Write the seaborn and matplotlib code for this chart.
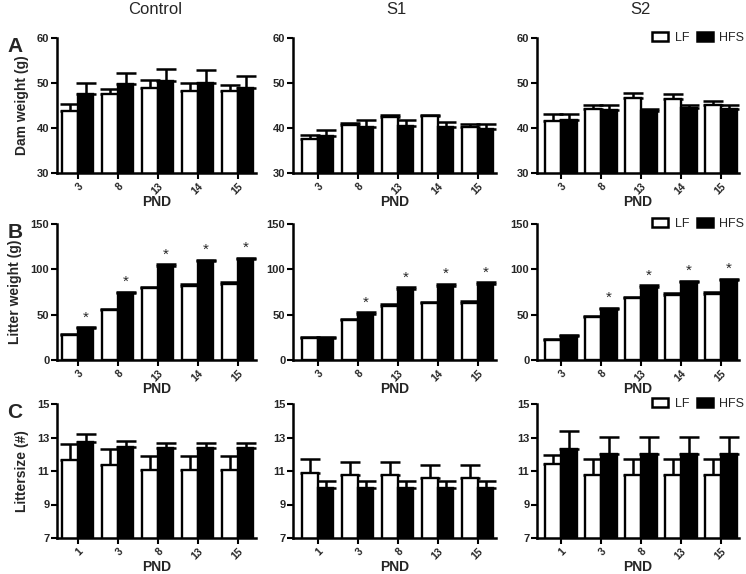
import numpy as np
import pandas as pd
import seaborn as sns
import matplotlib
matplotlib.use("Agg")
import matplotlib.pyplot as plt
from matplotlib.patches import Patch

# ---------------- data ----------------
groups = ["LF", "HFS"]
columns = ["Control", "S1", "S2"]
pnd_weight = ["3", "8", "13", "14", "15"]
pnd_size = ["1", "3", "8", "13", "15"]

# Row A: Dam weight (g)
dam_ctrl_lf = [43.8, 47.6, 48.8, 48.3, 48.2]
dam_ctrl_lf_err = [1.5, 1.0, 1.8, 1.8, 1.3]
dam_ctrl_hfs = [47.6, 49.8, 50.5, 50.1, 49.0]
dam_ctrl_hfs_err = [2.3, 2.5, 2.7, 2.7, 2.5]
dam_s1_lf = [37.5, 40.6, 42.4, 42.7, 40.2]
dam_s1_lf_err = [0.9, 0.6, 0.4, 0.3, 0.7]
dam_s1_hfs = [38.3, 40.2, 40.5, 40.2, 39.8]
dam_s1_hfs_err = [1.3, 1.5, 1.3, 1.2, 1.0]
dam_s2_lf = [41.5, 44.3, 46.7, 46.5, 45.1]
dam_s2_lf_err = [1.6, 0.9, 1.1, 1.0, 0.8]
dam_s2_hfs = [41.8, 43.9, 43.7, 44.4, 44.2]
dam_s2_hfs_err = [1.4, 1.3, 0.6, 0.8, 1.0]

# Row B: Litter weight (g)
lit_ctrl_lf = [28, 55, 79, 82, 84]
lit_ctrl_lf_err = [1.2, 1.5, 1.8, 1.8, 1.8]
lit_ctrl_hfs = [35, 74, 104, 109, 111]
lit_ctrl_hfs_err = [1.2, 1.5, 1.8, 1.8, 1.8]
lit_s1_lf = [24.5, 44, 60, 62.5, 63]
lit_s1_lf_err = [1.0, 1.5, 2.0, 2.0, 2.0]
lit_s1_hfs = [24.5, 51, 78, 82, 84]
lit_s1_hfs_err = [1.0, 1.5, 2.0, 2.0, 2.0]
lit_s2_lf = [22, 47, 68, 72, 73]
lit_s2_lf_err = [1.0, 1.5, 1.5, 1.5, 1.5]
lit_s2_hfs = [27, 56, 81, 86, 88]
lit_s2_hfs_err = [1.0, 1.5, 1.5, 1.5, 1.5]
lit_ctrl_sig = [True, True, True, True, True]
lit_s1_sig = [False, True, True, True, True]
lit_s2_sig = [False, True, True, True, True]

# Row C: Littersize (#)
size_ctrl_lf = [11.65, 11.35, 11.05, 11.05, 11.05]
size_ctrl_lf_err = [0.95, 0.95, 0.85, 0.85, 0.85]
size_ctrl_hfs = [12.75, 12.45, 12.35, 12.35, 12.35]
size_ctrl_hfs_err = [0.45, 0.35, 0.35, 0.35, 0.35]
size_s1_lf = [10.87, 10.75, 10.75, 10.56, 10.56]
size_s1_lf_err = [0.86, 0.77, 0.77, 0.77, 0.77]
size_s1_hfs = [10.0, 10.0, 10.0, 10.0, 10.0]
size_s1_hfs_err = [0.42, 0.42, 0.42, 0.42, 0.42]
size_s2_lf = [11.4, 10.77, 10.77, 10.77, 10.77]
size_s2_lf_err = [0.57, 0.93, 0.93, 0.93, 0.93]
size_s2_hfs = [12.32, 12.03, 12.03, 12.03, 12.03]
size_s2_hfs_err = [1.07, 1.02, 1.02, 1.02, 1.02]

rows = [
    dict(ylabel="Dam weight (g)", letter="A", cats=pnd_weight, ylim=(30, 60), yticks=[30, 40, 50, 60],
         data=[(dam_ctrl_lf, dam_ctrl_lf_err, dam_ctrl_hfs, dam_ctrl_hfs_err, None),
               (dam_s1_lf, dam_s1_lf_err, dam_s1_hfs, dam_s1_hfs_err, None),
               (dam_s2_lf, dam_s2_lf_err, dam_s2_hfs, dam_s2_hfs_err, None)]),
    dict(ylabel="Litter weight (g)", letter="B", cats=pnd_weight, ylim=(0, 150), yticks=[0, 50, 100, 150],
         data=[(lit_ctrl_lf, lit_ctrl_lf_err, lit_ctrl_hfs, lit_ctrl_hfs_err, lit_ctrl_sig),
               (lit_s1_lf, lit_s1_lf_err, lit_s1_hfs, lit_s1_hfs_err, lit_s1_sig),
               (lit_s2_lf, lit_s2_lf_err, lit_s2_hfs, lit_s2_hfs_err, lit_s2_sig)]),
    dict(ylabel="Littersize (#)", letter="C", cats=pnd_size, ylim=(7, 15), yticks=[7, 9, 11, 13, 15],
         data=[(size_ctrl_lf, size_ctrl_lf_err, size_ctrl_hfs, size_ctrl_hfs_err, None),
               (size_s1_lf, size_s1_lf_err, size_s1_hfs, size_s1_hfs_err, None),
               (size_s2_lf, size_s2_lf_err, size_s2_hfs, size_s2_hfs_err, None)]),
]

# ---------------- layout ----------------
sns.set_theme(style="ticks")
plt.rcParams["font.family"] = ["Liberation Sans", "DejaVu Sans"]

W, H = 746, 574
fig = plt.figure(figsize=(W / 100, H / 100), dpi=100)

row_px = [(38, 173), (224, 360), (404, 538)]   # top, bottom pixel
col_left_px = [57, 293, 537]
col_xlim_left = [-0.52, -0.62, -0.60]
xlim_right = 4.45
px_per_unit = 40.0

palette = {"LF": "white", "HFS": "black"}

for r, row in enumerate(rows):
    top, bot = row_px[r]
    for c in range(3):
        lf, lf_err, hfs, hfs_err, sig = row["data"][c]
        left = col_left_px[c]
        width_px = (xlim_right - col_xlim_left[c]) * px_per_unit
        ax = fig.add_axes([left / W, 1 - bot / H, width_px / W, (bot - top) / H])
        df = pd.DataFrame({
            "PND": row["cats"] * 2,
            "group": ["LF"] * len(lf) + ["HFS"] * len(hfs),
            "value": lf + hfs,
        })
        sns.barplot(data=df, x="PND", y="value", hue="group", order=row["cats"],
                    hue_order=groups, palette=palette, edgecolor="black", linewidth=1.7,
                    errorbar=None, width=0.78, gap=0, ax=ax, legend=False, zorder=2)
        errs = [lf_err, hfs_err]
        bar_containers = list(ax.containers)
        for gi, cont in enumerate(bar_containers):
            xs = [p.get_x() + p.get_width() / 2 for p in cont.patches]
            ys = [p.get_height() for p in cont.patches]
            e = errs[gi]
            ax.errorbar(xs, ys, yerr=[np.zeros(len(e)), e], fmt="none", ecolor="black",
                        elinewidth=1.8, capsize=7.5, capthick=1.8, zorder=1)
            if gi == 1 and sig is not None:
                for x, y, ee, s in zip(xs, ys, e, sig):
                    if s:
                        ax.text(x, y + ee + (row["ylim"][1] - row["ylim"][0]) * 0.02, "*",
                                ha="center", va="bottom", fontsize=11)
        ax.set_xlim(col_xlim_left[c], xlim_right)
        ax.set_ylim(*row["ylim"])
        ax.set_yticks(row["yticks"])
        ax.set_xticks(range(len(row["cats"])))
        ax.set_xticklabels(row["cats"], rotation=45, ha="right", rotation_mode="anchor",
                           fontsize=7.5, fontweight="bold")
        for lab in ax.get_yticklabels():
            lab.set_fontweight("bold")
            lab.set_fontsize(8)
        ax.tick_params(axis="both", width=1.5, length=4, pad=1.5, color="black")
        ax.tick_params(axis="x", pad=2)
        sns.despine(ax=ax)
        for sp in ["left", "bottom"]:
            ax.spines[sp].set_linewidth(1.8)
            ax.spines[sp].set_color("black")
        ax.set_xlabel("PND", fontsize=10, fontweight="bold", labelpad=-1)
        if c == 0:
            ax.set_ylabel(row["ylabel"], fontsize=10, fontweight="bold", labelpad=6)
        else:
            ax.set_ylabel("")
        if c == 2:
            handles = [Patch(facecolor="white", edgecolor="black", linewidth=1.8, label="LF"),
                       Patch(facecolor="black", edgecolor="black", linewidth=1.8, label="HFS")]
            ax.legend(handles=handles, loc="center right", bbox_to_anchor=(1.025, 1.0), ncol=2,
                      frameon=False, fontsize=9, handlelength=1.3, handleheight=0.7,
                      columnspacing=0.6, handletextpad=0.5, borderpad=0, borderaxespad=0)
        ax.set_facecolor("none")

    fig.text(15 / W, 1 - (top + 8) / H, row["letter"], fontsize=15, fontweight="bold",
             ha="center", va="center")

for c, name in enumerate(columns):
    cx = [155, 396, 640][c]
    fig.text(cx / W, 1 - 9 / H, name, fontsize=12, ha="center", va="center")

fig.savefig("out.png", dpi=100, facecolor="white")
